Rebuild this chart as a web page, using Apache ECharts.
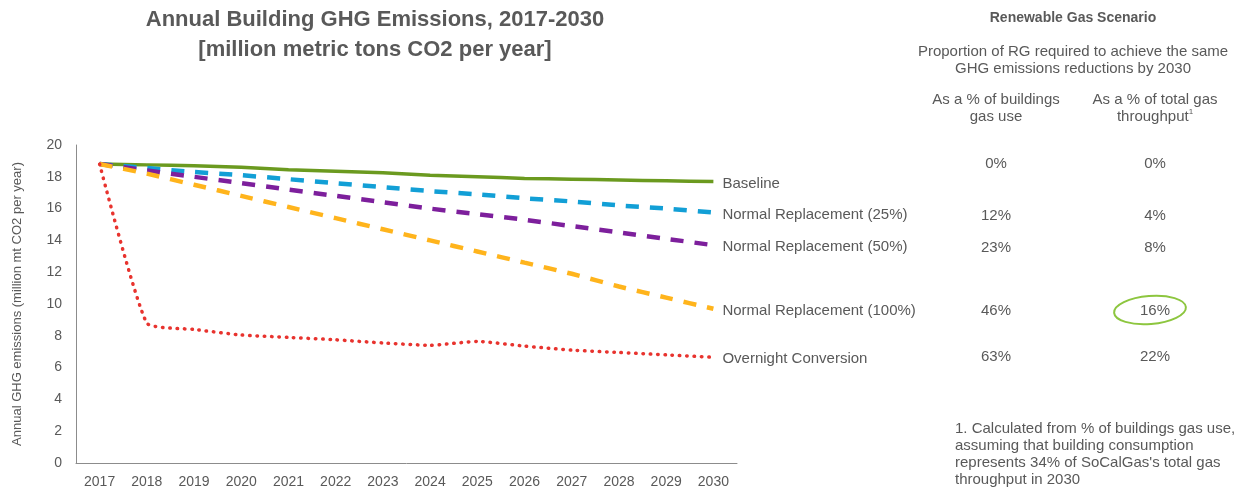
<!DOCTYPE html>
<html>
<head>
<meta charset="utf-8">
<script src="https://cdn.jsdelivr.net/npm/echarts@6/dist/echarts.min.js"></script>
<style>
  html, body { margin: 0; padding: 0; background: #fff; }
  #chart { width: 1241px; height: 489px; }
</style>
</head>
<body>
<div id="chart"></div>
<script>
// years on the x axis
const years = ['2017', '2018', '2019', '2020', '2021', '2022', '2023', '2024', '2025', '2026', '2027', '2028', '2029', '2030'];
// million mt CO2 per year
const baseline = [18.8, 18.75, 18.7, 18.6, 18.45, 18.35, 18.25, 18.1, 18.0, 17.9, 17.85, 17.8, 17.75, 17.7];
const replace25 = [18.8, 18.55, 18.3, 18.1, 17.85, 17.6, 17.35, 17.1, 16.9, 16.65, 16.45, 16.2, 16.0, 15.75];
const replace50 = [18.8, 18.4, 18.0, 17.6, 17.2, 16.8, 16.4, 16.0, 15.65, 15.3, 14.9, 14.5, 14.1, 13.7];
const replace100 = [18.8, 18.2, 17.5, 16.8, 16.1, 15.4, 14.7, 14.0, 13.3, 12.6, 11.9, 11.1, 10.4, 9.7];
const overnight = [18.8, 8.8, 8.4, 8.05, 7.9, 7.75, 7.55, 7.4, 7.65, 7.35, 7.1, 6.95, 6.8, 6.65];
const scenarioNames = ['Baseline', 'Normal Replacement (25%)', 'Normal Replacement (50%)', 'Normal Replacement (100%)', 'Overnight Conversion'];
// table on the right
const pctBuildings = ['0%', '12%', '23%', '46%', '63%'];
const pctTotal = ['0%', '4%', '8%', '16%', '22%'];
const yTicks = [0, 2, 4, 6, 8, 10, 12, 14, 16, 18, 20];

const FONT = '"Liberation Sans", Arial, sans-serif';
const GREY = '#595959';

const chart = echarts.init(document.getElementById('chart'));

function lineSeries(name, data, color, width, type, cap) {
  return {
    name: name,
    type: 'line',
    data: data,
    symbol: 'none',
    smooth: 0.15,
    lineStyle: { color: color, width: width, type: type, cap: cap },
    endLabel: {
      show: true,
      formatter: '{a}',
      color: GREY,
      fontFamily: FONT,
      fontSize: 15,
      distance: 9,
      offset: [0, 2]
    },
    emphasis: { disabled: true }
  };
}

// rows of the table line up with the end labels
const rowY = [164, 216, 248, 311, 357];
const tableText = [];
pctBuildings.forEach((v, i) => {
  tableText.push({ type: 'text', style: { x: 996, y: rowY[i], text: v, align: 'center', verticalAlign: 'middle', fill: GREY, font: '15px ' + FONT } });
  tableText.push({ type: 'text', style: { x: 1155, y: rowY[i], text: pctTotal[i], align: 'center', verticalAlign: 'middle', fill: GREY, font: '15px ' + FONT } });
});

const option = {
  animation: false,
  title: {
    text: 'Annual Building GHG Emissions, 2017-2030\n[million metric tons CO2 per year]',
    left: 370,
    textAlign: 'center',
    top: 0,
    textStyle: { color: GREY, fontFamily: FONT, fontSize: 22, fontWeight: 'bold', lineHeight: 30 }
  },
  grid: { left: 76, right: 504, top: 145, bottom: 26 },
  xAxis: {
    type: 'category',
    data: years,
    boundaryGap: true,
    axisLine: { lineStyle: { color: '#8c8c8c', width: 1 } },
    axisTick: { show: false },
    axisLabel: { color: GREY, fontFamily: FONT, fontSize: 14, margin: 12 }
  },
  yAxis: {
    type: 'value',
    min: yTicks[0],
    max: yTicks[yTicks.length - 1],
    interval: 2,
    name: 'Annual GHG emissions (million mt CO2 per year)',
    nameLocation: 'middle',
    nameGap: 52,
    nameTextStyle: { color: GREY, fontFamily: FONT, fontSize: 13 },
    axisLine: { show: true, lineStyle: { color: '#8c8c8c', width: 1 } },
    axisTick: { show: false },
    splitLine: { show: false },
    axisLabel: { color: GREY, fontFamily: FONT, fontSize: 14, margin: 14 }
  },
  series: [
    lineSeries(scenarioNames[0], baseline, '#6b9a1f', 3.5, 'solid', 'butt'),
    lineSeries(scenarioNames[1], replace25, '#129fd6', 4.5, [13, 11], 'butt'),
    lineSeries(scenarioNames[2], replace50, '#7d1f9c', 4.5, [13, 11], 'butt'),
    lineSeries(scenarioNames[3], replace100, '#ffb41c', 4.5, [13, 11], 'butt'),
    lineSeries(scenarioNames[4], overnight, '#e8332e', 3.5, [0.5, 6.8], 'round')
  ],
  graphic: [
    { type: 'text', style: { x: 1073, y: 18, text: 'Renewable Gas Scenario', align: 'center', verticalAlign: 'middle', fill: GREY, font: 'bold 14px ' + FONT } },
    { type: 'text', style: { x: 1073, y: 60, text: 'Proportion of RG required to achieve the same\nGHG emissions reductions by 2030', align: 'center', verticalAlign: 'middle', fill: GREY, font: '15px ' + FONT, lineHeight: 17 } },
    { type: 'text', style: { x: 996, y: 108, text: 'As a % of buildings\ngas use', align: 'center', verticalAlign: 'middle', fill: GREY, font: '15px ' + FONT, lineHeight: 17 } },
    { type: 'text', style: { x: 1155, y: 108, text: 'As a % of total gas\nthroughput{sup|1}', align: 'center', verticalAlign: 'middle', fill: GREY, font: '15px ' + FONT, lineHeight: 17, rich: { sup: { fontSize: 8, verticalAlign: 'top', fill: GREY, fontFamily: FONT, padding: [0, 0, 8, 0] } } } },
    ...tableText,
    { type: 'ellipse', rotation: 0.08, x: 1150, y: 310, shape: { cx: 0, cy: 0, rx: 36, ry: 14 }, style: { fill: 'none', stroke: '#8dc63f', lineWidth: 2 } },
    { type: 'text', style: { x: 955, y: 454, text: '1. Calculated from % of buildings gas use,\nassuming that building consumption\nrepresents 34% of SoCalGas\'s total gas\nthroughput in 2030', align: 'left', verticalAlign: 'middle', fill: GREY, font: '15px ' + FONT, lineHeight: 17 } }
  ]
};

chart.setOption(option);
</script>
</body>
</html>
